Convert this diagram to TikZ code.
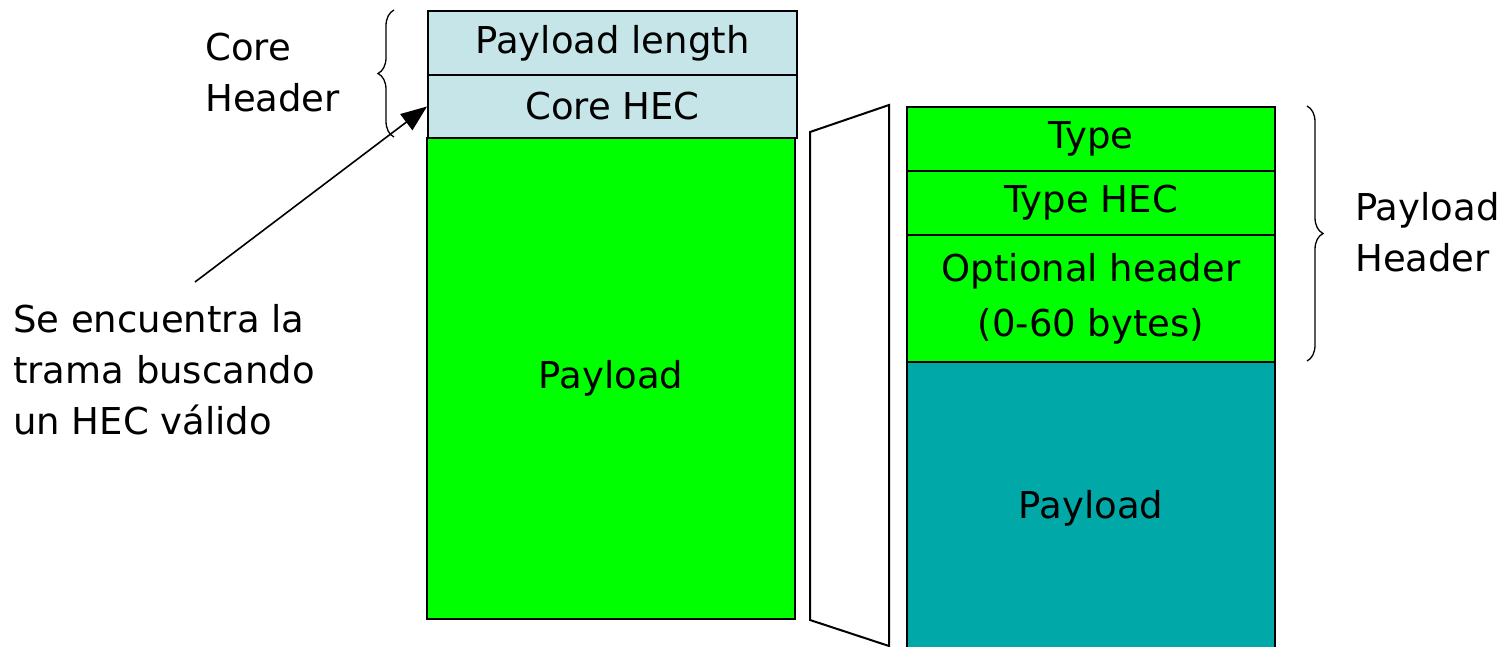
\documentclass[tikz,border=0pt]{standalone}
\usepackage{fontspec}
\setmainfont{DejaVu Sans}
\usetikzlibrary{arrows.meta,decorations.pathreplacing}
\definecolor{lightcyan}{RGB}{197,229,232}
\definecolor{brightgreen}{RGB}{0,255,0}
\definecolor{tealblue}{RGB}{0,168,168}
\tikzset{
  fieldbox/.style={draw=black, line width=2pt, inner sep=0pt, anchor=north west, align=center,
    font=\fontsize{37}{52}\selectfont},
  lbl/.style={inner sep=0pt, align=left, font=\fontsize{37}{51}\selectfont},
  bracebrace/.style={decorate, decoration={brace, amplitude=16pt}, line width=1.3pt},
  pointer/.style={line width=1.6pt, -{Triangle[length=26pt, width=20pt]}}
}
\begin{document}
\begin{tikzpicture}[x=1pt,y=-1pt]
\useasboundingbox (0,0) rectangle (1510,646);
\clip (0,0) rectangle (1510,646);
% left frame
\node[fieldbox, fill=lightcyan, minimum width=369pt, minimum height=64pt] (plen) at (427,10) {Payload length};
\node[fieldbox, fill=lightcyan, minimum width=369pt, minimum height=63pt] (chec) at (427,74) {Core HEC};
\node[fieldbox, fill=brightgreen, minimum width=368pt, minimum height=481pt] (pay1) at (426,137) {Payload};
% expansion trapezoid
\draw[line width=2pt, line join=miter] (889,660) -- (889,105) -- (810,132) -- (810,620) -- (889,646);
% right frame
\node[fieldbox, fill=brightgreen, minimum width=368pt, minimum height=64pt] (type) at (906,106) {Type};
\node[fieldbox, fill=brightgreen, minimum width=368pt, minimum height=64pt] (thec) at (906,170) {Type HEC};
\node[fieldbox, fill=brightgreen, minimum width=368pt, minimum height=127pt, font=\fontsize{37}{55}\selectfont] (opt) at (906,234) {Optional header\\(0-60 bytes)};
\node[fieldbox, fill=tealblue, minimum width=368pt, minimum height=292pt] (pay2) at (906,361) {Payload};
% braces
\draw[bracebrace] (394,137) -- (394,10);
\draw[bracebrace] (1307,106) -- (1307,361);
% labels
\node[lbl, anchor=west] (corehdr) at (205,73) {Core\\Header};
\node[lbl, anchor=west] (payhdr) at (1355,232) {Payload\\Header};
\node[lbl, anchor=west] (note) at (13,370) {Se encuentra la\\trama buscando\\un HEC válido};
\coordinate (tail) at (195,282);
\draw[pointer] (tail) -- (chec.west);
\end{tikzpicture}
\end{document}
